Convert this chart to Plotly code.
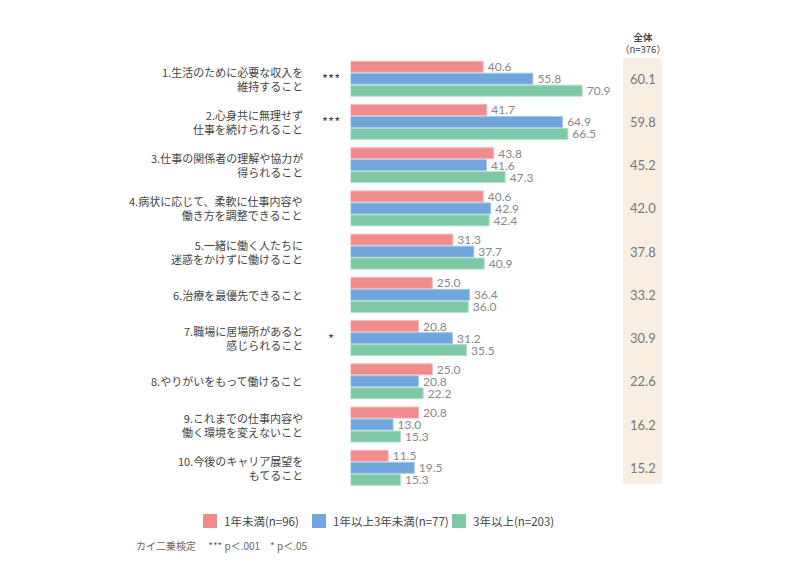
import plotly.graph_objects as go

labels = [
    "1.生活のために必要な収入を<br>維持すること",
    "2.心身共に無理せず<br>仕事を続けられること",
    "3.仕事の関係者の理解や協力が<br>得られること",
    "4.病状に応じて、柔軟に仕事内容や<br>働き方を調整できること",
    "5.一緒に働く人たちに<br>迷惑をかけずに働けること",
    "6.治療を最優先できること",
    "7.職場に居場所があると<br>感じられること",
    "8.やりがいをもって働けること",
    "9.これまでの仕事内容や<br>働く環境を変えないこと",
    "10.今後のキャリア展望を<br>もてること",
]
sig = ["***", "***", "", "", "", "", "*", "", "", ""]
series_names = ["1年未満(n=96)", "1年以上3年未満(n=77)", "3年以上(n=203)"]
under1 = [40.6, 41.7, 43.8, 40.6, 31.3, 25.0, 20.8, 25.0, 20.8, 11.5]
y1to3 = [55.8, 64.9, 41.6, 42.9, 37.7, 36.4, 31.2, 20.8, 13.0, 19.5]
over3 = [70.9, 66.5, 47.3, 42.4, 40.9, 36.0, 35.5, 22.2, 15.3, 15.3]
overall = [60.1, 59.8, 45.2, 42.0, 37.8, 33.2, 30.9, 22.6, 16.2, 15.2]

colors = ["#F08C8C", "#70A6DC", "#7FC8A5"]
line_colors = ["#F6B8B8", "#A5C8EC", "#B0DEC8"]
cats = [f"c{i}" for i in range(len(labels))]

# page body has an 8px margin: work in reference pixels and convert
OFF = 8
W, H = 800 - OFF, 575 - OFF
def px(x):
    return (x - OFF) / W
def py(y):
    return 1 - (y - OFF) / H

fig = go.Figure()
for name, vals, c, lc in zip(series_names, [under1, y1to3, over3], colors, line_colors):
    fig.add_trace(go.Bar(
        y=cats, x=vals, orientation="h", name=name,
        marker=dict(color=c, line=dict(color=lc, width=1)),
        text=["\u2009" + f"{v:.1f}" for v in vals], textposition="outside",
        constraintext="none",
        textfont=dict(family="Lato, Noto Sans", size=12, color="#888888"),
        cliponaxis=False, showlegend=False,
    ))

# overall column background
fig.add_shape(type="rect", xref="paper", yref="paper",
              x0=px(623), x1=px(662), y0=py(484), y1=py(58),
              fillcolor="#F8EFE2", line=dict(width=0), layer="below")

ann = []
for cat, lab, s, ov in zip(cats, labels, sig, overall):
    ann.append(dict(xref="paper", yref="y", x=px(305), y=cat, text=lab,
                    xanchor="right", yanchor="middle", align="right", showarrow=False,
                    font=dict(family="Noto Sans CJK JP", size=11, color="#444444")))
    if s:
        ann.append(dict(xref="paper", yref="y", x=px(331), y=cat, text=s,
                        xanchor="center", yanchor="middle", showarrow=False,
                        font=dict(family="Noto Sans CJK JP", size=13, color="#444444")))
    ann.append(dict(xref="paper", yref="y", x=px(643), y=cat, text=f"{ov:.1f}",
                    xanchor="center", yanchor="middle", showarrow=False,
                    font=dict(family="Lato, Noto Sans", size=13, color="#777777")))

ann.append(dict(xref="paper", yref="paper", x=px(643), y=py(43),
                text="<b>全体</b><br>（n=376）", xanchor="center", yanchor="middle",
                showarrow=False, align="center",
                font=dict(family="Noto Sans CJK JP", size=9.5, color="#444444")))
ann.append(dict(xref="paper", yref="paper", x=px(134), y=py(545),
                text="カイ二乗検定　 *** p＜.001　* p＜.05", xanchor="left", yanchor="middle",
                showarrow=False,
                font=dict(family="Noto Sans CJK JP", size=10, color="#666666")))

# manual legend
legend_x = [203, 312, 452]
for lx, name, c in zip(legend_x, series_names, colors):
    fig.add_shape(type="rect", xref="paper", yref="paper",
                  x0=px(lx), x1=px(lx + 14), y0=py(528), y1=py(514),
                  fillcolor=c, line=dict(width=0))
    ann.append(dict(xref="paper", yref="paper", x=px(lx + 19), y=py(521), text=name,
                    xanchor="left", yanchor="middle", showarrow=False,
                    font=dict(family="Noto Sans CJK JP", size=11.5, color="#444444")))

fig.update_layout(
    width=W, height=H, autosize=False,
    margin=dict(l=0, r=0, t=0, b=0),
    paper_bgcolor="white", plot_bgcolor="rgba(0,0,0,0)",
    barmode="group", bargap=0.17, bargroupgap=0.08,
    showlegend=False,
    annotations=ann,
    xaxis=dict(domain=[px(350.6), px(677.3)], range=[0, 100], visible=False),
    yaxis=dict(domain=[py(489.4), py(57.1)], autorange="reversed",
               showticklabels=False, showgrid=False, zeroline=False, showline=False, ticks=""),
)

fig.write_html("out.html")
